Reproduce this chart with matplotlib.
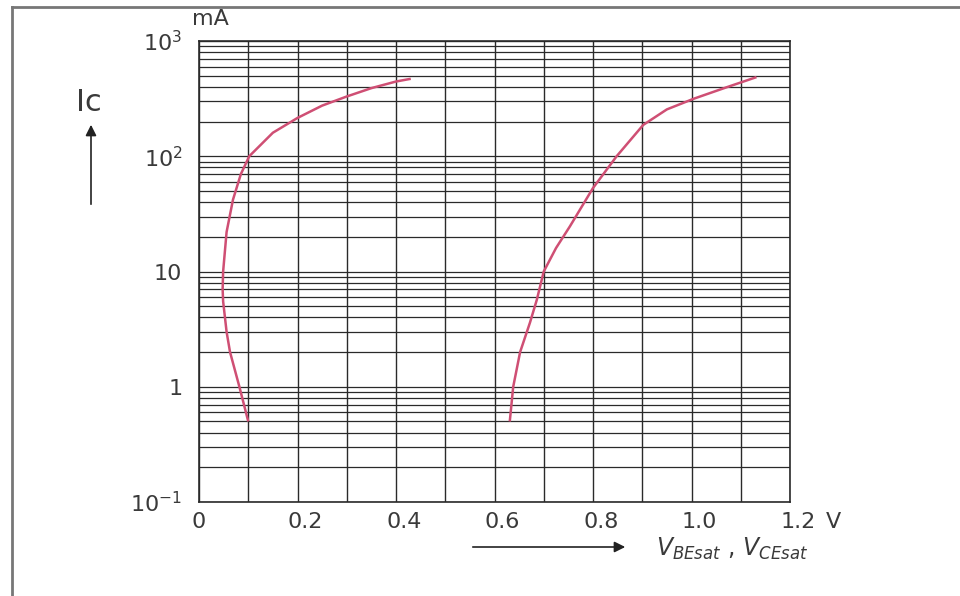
import matplotlib
matplotlib.use('Agg')
import matplotlib.pyplot as plt
import matplotlib.transforms as mtransforms
from matplotlib.patches import FancyArrowPatch
from matplotlib.lines import Line2D

plt.rcParams['font.family'] = ['DejaVu Sans']
plt.rcParams['mathtext.fontset'] = 'custom'
plt.rcParams['mathtext.rm'] = 'DejaVu Sans'
plt.rcParams['mathtext.it'] = 'DejaVu Sans:italic'

# V_CEsat curve (left)
vce = [0.100, 0.082, 0.063, 0.056, 0.049, 0.048, 0.049, 0.056, 0.069, 0.085, 0.102,
       0.150, 0.200, 0.250, 0.300, 0.350, 0.400, 0.430]
ic_ce = [0.5, 1.0, 2.0, 3.0, 5.5, 7.0, 10.0, 22.0, 42.0, 70.0, 100.0,
         160.0, 215.0, 275.0, 330.0, 390.0, 445.0, 470.0]

# V_BEsat curve (right)
vbe = [0.631, 0.638, 0.652, 0.672, 0.686, 0.700, 0.725, 0.753, 0.800, 0.848, 0.902,
       0.950, 1.004, 1.070, 1.132]
ic_be = [0.5, 1.0, 2.0, 3.6, 5.7, 10.0, 16.0, 24.6, 53.0, 100.0, 187.0,
         255.0, 315.0, 395.0, 486.0]

xticks = [0, 0.2, 0.4, 0.6, 0.8, 1.0, 1.2]
xlabels = ['0', '0.2', '0.4', '0.6', '0.8', '1.0', '1.2']
yticks = [0.1, 1, 10, 100, 1000]
ylabels = [r'$10^{-1}$', '1', '10', r'$10^{2}$', r'$10^{3}$']

grid_c = '#2a2a2a'
text_c = '#3a3a3a'
curve_c = '#cf4f74'

fig = plt.figure(figsize=(9.6, 5.96), dpi=100)
ax = fig.add_axes([199 / 960, 1 - 502 / 596, 591 / 960, 461 / 596])

ax.set_yscale('log')
ax.set_xlim(0, 1.2)
ax.set_ylim(0.1, 1000)

# grid: every 0.1 V, every log minor step
for i in range(13):
    ax.axvline(i * 0.1, color=grid_c, lw=1.0, zorder=1)
for dec in [0.1, 1, 10, 100]:
    for k in range(1, 10):
        ax.axhline(dec * k, color=grid_c, lw=0.9, zorder=1)
ax.axhline(1000, color=grid_c, lw=1.0, zorder=1)

ax.plot(vce, ic_ce, color=curve_c, lw=1.8, zorder=3, solid_capstyle='butt')
ax.plot(vbe, ic_be, color=curve_c, lw=1.8, zorder=3, solid_capstyle='butt')

for s in ax.spines.values():
    s.set_color(grid_c)
    s.set_linewidth(1.2)

ax.set_xticks(xticks)
ax.set_xticklabels(xlabels)
ax.set_yticks(yticks)
ax.set_yticklabels(ylabels)
ax.minorticks_off()
ax.tick_params(length=0, labelsize=16, colors=text_c)
ax.tick_params(axis='y', pad=12)
ax.tick_params(axis='x', pad=7)

# labels in the source sit a little right of their grid lines
shift = mtransforms.ScaledTranslation(8 / 100, 0, fig.dpi_scale_trans)
for lab in ax.get_xticklabels()[1:]:
    lab.set_transform(lab.get_transform() + shift)

# unit, axis names and arrows
fig.text(833 / 960, 1 - 522 / 596, 'V', fontsize=16, color=text_c, ha='center', va='center')
fig.text(192 / 960, 1 - 19 / 596, 'mA', fontsize=16, color=text_c, ha='left', va='center')
fig.text(89 / 960, 1 - 103 / 596, 'Ic', fontsize=22, color=text_c, ha='center', va='center')
fig.add_artist(FancyArrowPatch((91 / 960, 1 - 207 / 596), (91 / 960, 1 - 122 / 596),
                               transform=fig.transFigure, arrowstyle='-|>', mutation_scale=16,
                               color='#222222', lw=1.2))
fig.add_artist(FancyArrowPatch((470 / 960, 1 - 547 / 596), (628 / 960, 1 - 547 / 596),
                               transform=fig.transFigure, arrowstyle='-|>', mutation_scale=16,
                               color='#222222', lw=1.2))
fig.text(656 / 960, 1 - 549 / 596, r'$V_{BEsat}$ , $V_{CEsat}$', fontsize=17, color=text_c,
         ha='left', va='center')

# picture frame
fig.add_artist(Line2D([12 / 960, 12 / 960], [0, 1 - 7 / 596], transform=fig.transFigure,
                      color='#777777', lw=2.0))
fig.add_artist(Line2D([12 / 960, 1], [1 - 7 / 596, 1 - 7 / 596], transform=fig.transFigure,
                      color='#777777', lw=2.0))

fig.savefig('out.png', dpi=100)
